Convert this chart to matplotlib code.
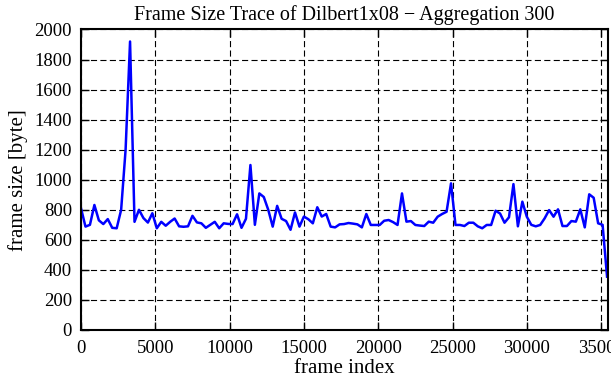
"""
Frame size trace of Dilbert1x08, aggregation 300.
"""

import matplotlib
matplotlib.use("Agg")
import matplotlib.pyplot as plt

# Données : une valeur moyenne par bloc de 300 trames
pas_agregation = 300
taille_trames = [
    810, 688, 700, 832, 730, 705, 738, 680, 677, 800,
    1200, 1920, 720, 800, 745, 715, 777, 677, 720, 694,
    720, 742, 690, 687, 690, 760, 716, 710, 680, 700,
    720, 677, 710, 706, 705, 770, 680, 740, 1098, 700,
    909, 885, 800, 688, 826, 740, 725, 667, 782, 688,
    755, 737, 710, 817, 755, 772, 688, 683, 703, 705,
    712, 708, 703, 683, 772, 699, 699, 699, 727, 732,
    718, 699, 909, 721, 725, 699, 695, 692, 721, 714,
    754, 772, 787, 976, 699, 699, 692, 714, 714, 690,
    677, 699, 699, 794, 775, 714, 750, 971, 690, 854,
    754, 700, 690, 699, 743, 798, 754, 803, 692, 692,
    725, 721, 803, 683, 903, 880, 710, 700, 355,
]
index_trames = [i * pas_agregation for i in range(len(taille_trames))]

x_ticks = [0, 5000, 10000, 15000, 20000, 25000, 30000, 35000]
y_ticks = list(range(0, 2001, 200))

plt.rcParams['font.family'] = ['Liberation Serif', 'DejaVu Serif']

fig = plt.figure(figsize=(6.11, 3.80), dpi=100)
ax = fig.add_axes([0.1326, 0.1316, 0.8624, 0.7908])

ax.plot(index_trames, taille_trames, color='#0000ff', linewidth=1.8)

ax.set_xlim(0, 35460)
ax.set_ylim(0, 2000)
ax.set_xticks(x_ticks)
ax.set_yticks(y_ticks)
ax.grid(True, color='black', linestyle=(0, (5.5, 3)), linewidth=0.8)

ax.tick_params(direction='in', length=6, width=1, top=True, right=True,
               labelsize=13.5)
ax.tick_params(axis='x', pad=7)
ax.tick_params(axis='y', pad=6.5)
for spine in ax.spines.values():
    spine.set_linewidth(1.5)

ax.set_title("Frame Size Trace of Dilbert1x08 \u2212 Aggregation 300",
             fontsize=14.5, pad=7)
ax.set_xlabel("frame index", fontsize=15, labelpad=2)
ax.set_ylabel("frame size [byte]", fontsize=15, labelpad=5)

fig.savefig("out.png", dpi=100)
